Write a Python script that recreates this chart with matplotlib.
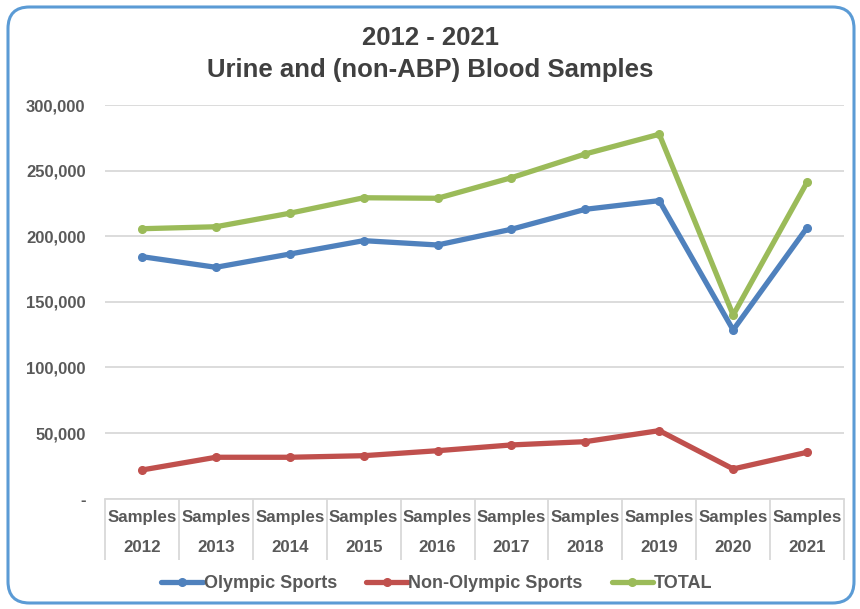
import matplotlib
matplotlib.use("Agg")
import matplotlib.pyplot as plt
from matplotlib.patches import FancyBboxPatch
from matplotlib.ticker import FuncFormatter, FixedLocator

plt.rcParams['font.family'] = ['Liberation Sans', 'DejaVu Sans']

years = ["2012", "2013", "2014", "2015", "2016", "2017", "2018", "2019", "2020", "2021"]
category_prefix = "Samples"
olympic = [184400, 176300, 186400, 196600, 193300, 205300, 220500, 227100, 128500, 206500]
non_olympic = [21800, 31500, 31500, 32700, 36500, 40900, 43400, 51800, 22600, 35300]
total = [205700, 207200, 217500, 229300, 228900, 244600, 262700, 277700, 139900, 241100]
series_names = ["Olympic Sports", "Non-Olympic Sports", "TOTAL"]
colors = ["#4F81BD", "#C0504D", "#9BBB59"]
title_lines = ["2012 - 2021", "Urine and (non-ABP) Blood Samples"]

text_color = "#595959"
grid_color = "#D9D9D9"

fig = plt.figure(figsize=(8.6, 6.09), dpi=100)
fig.patch.set_facecolor("white")

# rounded border
border = FancyBboxPatch((8 / 860, 6 / 609), 846 / 860, 596 / 609,
                        boxstyle="round,pad=0,rounding_size=0.025",
                        transform=fig.transFigure, facecolor="none",
                        edgecolor="#5B9BD5", linewidth=2.2, mutation_aspect=860 / 609)
fig.patches.append(border)

ax = fig.add_axes([105 / 860, 1 - 498.6 / 609, (844 - 105) / 860, (498.6 - 105) / 609])
x = list(range(len(years)))
for vals, name, c in zip([olympic, non_olympic, total], series_names, colors):
    ax.plot(x, vals, color=c, lw=3.8, marker="o", ms=5.5, label=name,
            solid_capstyle="round", solid_joinstyle="round")

ax.set_xlim(-0.5, len(years) - 0.5)
ax.set_ylim(0, 300000)
ax.set_yticks(range(0, 300001, 50000))
ax.yaxis.set_major_formatter(FuncFormatter(lambda v, p: "-" if v == 0 else f"{int(v):,}"))
ax.grid(axis="y", color=grid_color, lw=1.3)
ax.set_axisbelow(True)
for s in ["top", "right", "left"]:
    ax.spines[s].set_visible(False)
ax.spines["bottom"].set_color(grid_color)
ax.spines["bottom"].set_linewidth(1.3)
ax.tick_params(axis="y", length=0, pad=14, labelsize=12, labelcolor=text_color)
for lab in ax.get_yticklabels():
    lab.set_fontweight("bold")

# category axis: two-level labels
ax.set_xticks(x)
ax.set_xticklabels([f"{category_prefix}\n{y}" for y in years], fontsize=12.2,
                   fontweight="bold", color=text_color, linespacing=2.25)
ax.tick_params(axis="x", which="major", length=0, pad=8)
ax.xaxis.set_minor_locator(FixedLocator([i - 0.5 for i in range(len(years) + 1)]))
ax.tick_params(axis="x", which="minor", length=44, width=1.3, color=grid_color, direction="out")

fig.text(0.5, 1 - 38 / 609, title_lines[0], ha="center", va="center",
         fontsize=18.5, fontweight="bold", color="#404040")
fig.text(0.5, 1 - 70 / 609, title_lines[1], ha="center", va="center",
         fontsize=18.5, fontweight="bold", color="#404040")

leg = fig.legend(loc="center", bbox_to_anchor=(437 / 860, 1 - 584 / 609), ncol=3,
                 frameon=False, handlelength=2.3, handletextpad=0.05, columnspacing=1.6,
                 prop={"weight": "bold", "size": 13})
for t in leg.get_texts():
    t.set_color(text_color)

fig.savefig("out.png", dpi=100, facecolor="white")
